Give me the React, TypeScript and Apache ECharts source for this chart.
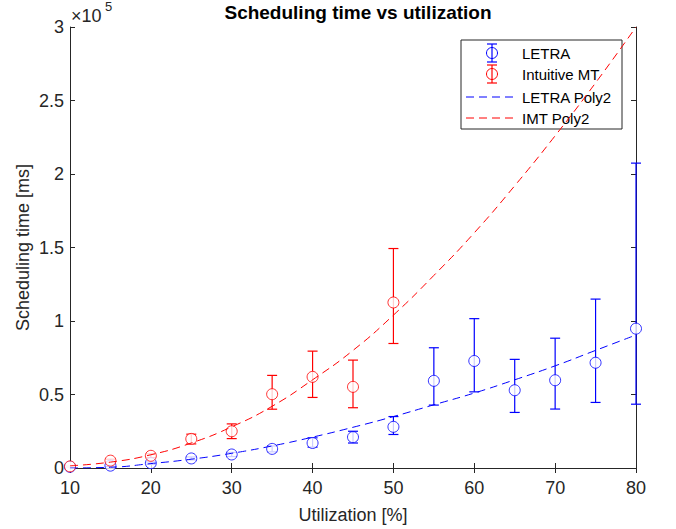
import React, { useEffect, useRef } from "react";
import * as echarts from "echarts";

// ---- data (values in ms) ----
const utilization = [10, 15, 20, 25, 30, 35, 40, 45, 50, 55, 60, 65, 70, 75, 80];
const letraMean = [800, 1600, 3300, 6500, 9200, 13000, 17000, 21000, 28000, 59300, 72800, 52900, 59700, 71600, 94800];
const letraLow = [400, 1000, 2500, 5500, 7800, 11000, 14200, 17000, 22800, 42800, 51800, 37800, 40100, 44600, 43400];
const letraHigh = [1200, 2200, 4100, 7500, 10600, 15000, 20500, 25000, 35000, 81800, 101600, 73900, 88300, 114900, 207400];

const imtUtil = [10, 15, 20, 25, 30, 35, 40, 45, 50];
const imtMean = [1100, 5000, 8300, 19800, 25000, 50200, 62000, 55200, 112600];
const imtLow = [700, 4000, 7000, 16400, 20000, 40000, 48000, 41000, 84700];
const imtHigh = [1500, 6000, 9600, 23000, 30000, 63000, 79500, 73400, 149300];

const letraFit = [0, 500, 3000, 6000, 10000, 15000, 21000, 27700, 35000, 43000, 51000, 60000, 69500, 80000, 90500];
const imtFit = [1500, 4000, 9000, 17000, 28000, 42000, 60000, 80000, 104000, 131000, 160000, 192000, 226000, 262000, 300000];

const xTicks = { min: 10, max: 80, interval: 10 };
const yTicks = { min: 0, max: 300000, interval: 50000 };

const legendNames = ["LETRA", "Intuitive MT", "LETRA Poly2", "IMT Poly2"];

const BLUE = "#0000ff";
const RED = "#ff0000";
const AX = "#262626";
const FONT = "Liberation Sans, Arial, Helvetica, sans-serif";

function errorBarSeries(name: string, xs: number[], lo: number[], hi: number[], color: string) {
  return {
    type: "custom",
    name,
    z: 3,
    clip: false,
    data: xs.map((x, i) => [x, lo[i], hi[i]]),
    encode: { x: 0, y: [1, 2] },
    renderItem: (params: any, api: any) => {
      const x = api.value(0);
      const pLo = api.coord([x, api.value(1)]);
      const pHi = api.coord([x, api.value(2)]);
      const hw = 5;
      const st = { stroke: color, lineWidth: 1.2, fill: "none" };
      return {
        type: "group",
        children: [
          { type: "line", shape: { x1: pLo[0], y1: pLo[1], x2: pHi[0], y2: pHi[1] }, style: st },
          { type: "line", shape: { x1: pLo[0] - hw, y1: pLo[1], x2: pLo[0] + hw, y2: pLo[1] }, style: st },
          { type: "line", shape: { x1: pHi[0] - hw, y1: pHi[1], x2: pHi[0] + hw, y2: pHi[1] }, style: st },
        ],
      };
    },
  };
}

function legendGraphic() {
  const left = 461, top = 40, w = 161, h = 89;
  const iconX = 492, textX = 522;
  const rows = [53, 74, 97, 118];
  const children: any[] = [
    { type: "rect", shape: { x: left, y: top, width: w, height: h }, style: { fill: "#fff", stroke: AX, lineWidth: 1 } },
  ];
  const ebIcon = (y: number, color: string) => [
    { type: "line", shape: { x1: iconX, y1: y - 9, x2: iconX, y2: y + 9 }, style: { stroke: color, lineWidth: 1.2 } },
    { type: "line", shape: { x1: iconX - 5, y1: y - 9, x2: iconX + 5, y2: y - 9 }, style: { stroke: color, lineWidth: 1.2 } },
    { type: "line", shape: { x1: iconX - 5, y1: y + 9, x2: iconX + 5, y2: y + 9 }, style: { stroke: color, lineWidth: 1.2 } },
    { type: "circle", shape: { cx: iconX, cy: y, r: 5.5 }, style: { fill: "none", stroke: color, lineWidth: 1 } },
  ];
  children.push(...ebIcon(rows[0], BLUE));
  children.push(...ebIcon(rows[1], RED));
  children.push({ type: "line", shape: { x1: 466, y1: rows[2], x2: 518, y2: rows[2] }, style: { stroke: BLUE, lineWidth: 1, lineDash: [8, 5] } });
  children.push({ type: "line", shape: { x1: 466, y1: rows[3], x2: 518, y2: rows[3] }, style: { stroke: RED, lineWidth: 1, lineDash: [8, 5] } });
  legendNames.forEach((n, i) => {
    children.push({
      type: "text",
      x: textX,
      y: rows[i],
      style: { text: n, font: `15px ${FONT}`, fill: "#000", textVerticalAlign: "middle", textAlign: "left" },
    });
  });
  return { type: "group", z: 100, children };
}

export default function App() {
  const ref = useRef<HTMLDivElement>(null);
  useEffect(() => {
    document.body.style.margin = "0";
    if (!ref.current) return;
    const chart = echarts.init(ref.current, undefined, { renderer: "svg" });
    const axisCommon = {
      type: "value",
      axisLine: { show: true, lineStyle: { color: AX, width: 1 } },
      axisTick: { show: true, inside: true, length: 5, lineStyle: { color: AX, width: 1 } },
      splitLine: { show: false },
    };
    chart.setOption({
      animation: false,
      backgroundColor: "#fff",
      title: {
        text: "Scheduling time vs utilization",
        left: 353,
        top: -2,
        textAlign: "center",
        textStyle: { fontFamily: FONT, fontSize: 19, fontWeight: "bold", color: "#000" },
      },
      grid: { left: 70, right: 40, top: 27, bottom: 58, containLabel: false },
      xAxis: [
        {
          ...axisCommon,
          position: "bottom",
          min: xTicks.min,
          max: xTicks.max,
          interval: xTicks.interval,
          name: "Utilization [%]",
          nameLocation: "middle",
          nameGap: 38,
          nameMoveOverlap: false,
          nameTextStyle: { fontFamily: FONT, fontSize: 18, color: AX },
          axisLabel: { fontFamily: FONT, fontSize: 18, color: AX, margin: 11 },
        },
        {
          ...axisCommon,
          position: "top",
          min: xTicks.min,
          max: xTicks.max,
          interval: xTicks.interval,
          axisLabel: { show: false },
        },
      ],
      yAxis: [
        {
          ...axisCommon,
          position: "left",
          min: yTicks.min,
          max: yTicks.max,
          interval: yTicks.interval,
          name: "Scheduling time [ms]",
          nameLocation: "middle",
          nameGap: 38,
          nameMoveOverlap: false,
          nameTextStyle: { fontFamily: FONT, fontSize: 18, color: AX },
          axisLabel: { fontFamily: FONT, fontSize: 18, color: AX, margin: 6, formatter: (v: number) => String(v / 1e5) },
        },
        {
          ...axisCommon,
          position: "right",
          min: yTicks.min,
          max: yTicks.max,
          interval: yTicks.interval,
          axisLabel: { show: false },
        },
      ],
      graphic: [
        {
          type: "text",
          x: 71,
          y: 25,
          style: { text: "×10", font: `18px ${FONT}`, fill: AX, textVerticalAlign: "bottom", textAlign: "left" },
        },
        {
          type: "text",
          x: 105,
          y: 0,
          style: { text: "5", font: `13px ${FONT}`, fill: AX, textVerticalAlign: "top", textAlign: "left" },
        },
        legendGraphic(),
      ],
      series: [
        errorBarSeries("LETRA err", utilization, letraLow, letraHigh, BLUE),
        {
          type: "scatter",
          name: "LETRA",
          z: 4,
          symbol: "circle",
          symbolSize: 11,
          itemStyle: { color: "#fff", borderColor: BLUE, borderWidth: 1 },
          data: utilization.map((x, i) => [x, letraMean[i]]),
        },
        errorBarSeries("Intuitive MT err", imtUtil, imtLow, imtHigh, RED),
        {
          type: "scatter",
          name: "Intuitive MT",
          z: 4,
          symbol: "circle",
          symbolSize: 11,
          itemStyle: { color: "#fff", borderColor: RED, borderWidth: 1 },
          data: imtUtil.map((x, i) => [x, imtMean[i]]),
        },
        {
          type: "line",
          name: "LETRA Poly2",
          z: 5,
          smooth: true,
          showSymbol: false,
          clip: true,
          lineStyle: { color: BLUE, width: 1, type: [8, 5] },
          data: utilization.map((x, i) => [x, letraFit[i]]),
        },
        {
          type: "line",
          name: "IMT Poly2",
          z: 5,
          smooth: true,
          showSymbol: false,
          clip: true,
          lineStyle: { color: RED, width: 1, type: [8, 5] },
          data: utilization.map((x, i) => [x, imtFit[i]]),
        },
      ],
    });
    return () => chart.dispose();
  }, []);
  return <div ref={ref} style={{ width: 676, height: 529 }} />;
}
